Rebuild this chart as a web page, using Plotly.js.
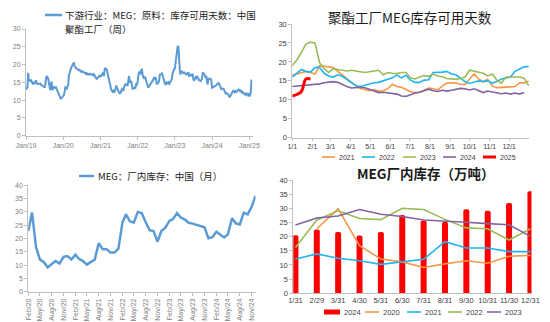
<!DOCTYPE html>
<html><head><meta charset="utf-8">
<script src="https://cdn.plot.ly/plotly-3.0.1.min.js"></script>
<style>html,body{margin:0;padding:0;background:#fff}#c{width:550px;height:322px}</style>
</head><body><div id="c"></div><script>
// ---- Weekly MEG inventory usable days (polyester plants), by year ----
const days2019 = [13.8,13.3,13.5,17.7,15.6,15.5,15.4,15.6,15.0,14.6,14.4,14.9,14.8,15.0,15.6,14.5,14.7,14.5,14.5,14.6,14.7,14.3,14.2,14.1,14.0,13.8,13.5,14.2,16.0,16.8,16.5,16.1,15.0,13.8,12.8,14.5,15.2,12.8,13.4,13.6,13.7,13.5,13.6,13.0,12.4,12.0,11.5,11.2,10.8,10.3,10.6,11.0];
const days2020 = [11.2,11.4,12.4,13.6,13.5,13.0,13.8,14.2,17.0,18.0,18.7,19.0,19.5,19.8,20.4,20.6,19.5,19.2,19.0,18.8,18.7,18.5,18.4,18.5,18.2,18.0,18.1,17.9,18.0,17.8,17.6,17.5,17.8,17.3,17.4,17.2,17.3,17.2,17.4,17.2,17.1,17.2,17.0,17.3,16.8,16.6,16.2,16.0,16.1,16.4,16.6,17.0];
const days2021 = [16.5,16.8,17.2,17.5,17.2,16.8,19.0,18.8,18.6,18.5,17.5,16.5,15.5,14.5,13.7,13.0,12.6,12.4,12.7,12.3,12.4,12.9,14.1,13.5,13.3,12.8,12.1,11.9,12.0,12.5,13.1,12.9,12.6,13.6,14.4,14.5,14.4,14.1,14.0,15.5,16.8,15.5,14.8,15.4,13.6,13.2,13.3,13.3,13.6,13.5,14.5,14.4,15.0];
const days2022 = [16.0,17.0,18.0,17.5,17.3,18.5,18.6,17.0,16.3,16.0,16.6,16.2,15.3,14.6,13.7,13.5,13.9,14.2,14.5,14.6,15.0,15.5,15.8,16.5,15.8,16.5,15.2,14.6,14.6,15.2,15.3,17.2,17.2,17.3,17.5,16.8,16.6,15.8,14.8,14.3,14.6,15.0,14.8,15.0,14.4,14.8,15.5,15.8,16.0,17.5,18.2,18.7,18.8];
const days2023 = [19.0,20.5,22.5,24.7,25.2,25.0,19.8,18.2,17.2,18.2,18.0,17.7,17.6,17.8,17.6,17.3,17.2,17.4,17.6,17.8,16.6,17.2,17.0,16.9,17.2,17.2,15.8,15.5,16.0,16.4,16.2,16.8,16.3,16.1,15.6,15.4,15.4,15.6,16.0,17.8,17.6,17.4,17.0,16.3,16.8,15.2,14.4,16.0,16.0,16.0,16.0,15.7,13.7];
const days2024 = [13.5,13.6,13.7,13.8,14.0,14.0,14.2,14.5,14.7,14.8,14.6,14.0,13.5,13.1,13.2,13.3,13.2,12.8,12.4,11.9,12.0,11.9,11.8,11.5,11.0,10.9,11.3,11.8,12.0,12.3,12.8,12.4,12.2,12.5,12.3,12.5,12.8,13.0,12.9,12.6,12.9,12.4,11.9,12.3,12.1,11.8,11.6,11.8,11.5,11.8,11.5,11.9];
const days2025 = [11.0,11.4,12.2,15.5,15.5];

// ---- Monthly MEG plant inventory (10k t), by year ----
const monthCats = ['1/31','2/29','3/31','4/30','5/31','6/30','7/31','8/31','9/30','10/31','11/30','12/31'];
const inv2020 = [null,22.8,29.8,16.8,12.1,11.1,9.1,10.4,11.5,10.6,13.1,13.4];
const inv2021 = [12.1,13.9,12.4,11.5,10.2,11.2,12.0,18.2,16.0,16.0,14.7,14.7];
const inv2022 = [16.2,25.9,29.1,26.4,26.0,30.0,29.6,26.1,23.1,22.8,18.8,22.8];
const inv2023 = [24.1,26.6,27.3,29.6,27.9,27.1,25.9,25.6,25.1,24.6,24.2,20.1];
const inv2024 = [20.5,22.5,21.6,20.4,21.6,27.6,25.7,25.3,29.7,29.1,31.9,36.0];

// ---- Text ----
const tlLegend1 = '下游行业：MEG：原料：库存可用天数：中国';
const tlLegend2 = '聚酯工厂（周）';
const trTitle = '聚酯工厂MEG库存可用天数';
const blLegend = 'MEG：厂内库存：中国（月）';
const brTitle = 'MEG厂内库存（万吨）';

const W = 550, H = 322;
const px = v => v / W, py = v => 1 - v / H;
const iso = d => d.toISOString().slice(0, 10);
const weekDate = (y, w) => iso(new Date(Date.UTC(y, 0, 1 + 7 * w)));

const yearDays = {2019: days2019, 2020: days2020, 2021: days2021, 2022: days2022, 2023: days2023, 2024: days2024, 2025: days2025};
const tlX = [], tlY = [];
Object.keys(yearDays).forEach(y => yearDays[y].forEach((v, w) => { tlX.push(weekDate(+y, w)); tlY.push(v); }));

const yearInv = {2020: inv2020, 2021: inv2021, 2022: inv2022, 2023: inv2023, 2024: inv2024};
const blX = [], blY = [];
Object.keys(yearInv).forEach(y => yearInv[y].forEach((v, m) => {
  if (v !== null) { blX.push(`${y}-${String(m + 1).padStart(2, '0')}-01`); blY.push(v); }
}));

const C = {o: '#F79646', b: '#1FB5EE', g: '#9BBB59', p: '#8064A2', r: '#FF0000', line: '#5B9BD5'};
const trSeries = [['2021', days2021, C.o, 1.6], ['2022', days2022, C.b, 1.6], ['2023', days2023, C.g, 1.6], ['2024', days2024, C.p, 1.6], ['2025', days2025, C.r, 3]];

const traces = [];
traces.push({x: tlX, y: tlY, type: 'scatter', mode: 'lines', line: {color: C.line, width: 2}, xaxis: 'x', yaxis: 'y'});
trSeries.forEach(([n, arr, col, w]) => traces.push({
  x: arr.map((_, i) => weekDate(2001, i)), y: arr, type: 'scatter', mode: 'lines', name: n,
  line: {color: col, width: w, shape: n === '2025' ? 'spline' : 'linear'}, xaxis: 'x2', yaxis: 'y2'}));
traces.push({x: blX, y: blY, type: 'scatter', mode: 'lines', line: {color: C.line, width: 2.5}, xaxis: 'x3', yaxis: 'y3'});
traces.push({x: monthCats, y: inv2024, type: 'bar', width: 0.28, marker: {color: C.r, cornerradius: 3}, xaxis: 'x4', yaxis: 'y4'});
[['2020', inv2020, C.o], ['2021', inv2021, C.b], ['2022', inv2022, C.g], ['2023', inv2023, C.p]].forEach(([n, arr, col]) =>
  traces.push({x: monthCats, y: arr, type: 'scatter', mode: 'lines', name: n, line: {color: col, width: 1.6}, xaxis: 'x4', yaxis: 'y4'}));

const num = 'Arial, "Liberation Sans", sans-serif';
const cjk = '"Noto Sans CJK SC", "Noto Sans", sans-serif';
const axBase = {showline: true, linecolor: '#BFBFBF', linewidth: 1, showgrid: false, zeroline: false, ticks: 'outside', ticklen: 3, tickcolor: '#BFBFBF', fixedrange: true};
const gray = {family: num, size: 7, color: '#808080'};
const dark = {family: num, size: 7.5, color: '#404040'};
const darkS = {family: num, size: 7, color: '#404040'};

const layout = {
  width: W, height: H, margin: {l: 0, r: 0, t: 0, b: 0}, paper_bgcolor: '#fff', plot_bgcolor: 'rgba(0,0,0,0)',
  showlegend: false, hovermode: false,
  xaxis: Object.assign({}, axBase, {domain: [px(26), px(252.5)], anchor: 'y', type: 'date', range: ['2019-01-01', '2025-02-01'], dtick: 'M12', tick0: '2019-01-01', tickformat: '%b/%y', tickfont: gray}),
  yaxis: Object.assign({}, axBase, {domain: [1 - 135.7 / H, 1 - 29 / H], anchor: 'x', range: [0, 30], dtick: 5, tickfont: gray}),
  xaxis2: Object.assign({}, axBase, {domain: [px(292.3), px(529)], anchor: 'y2', type: 'date', range: ['2001-01-01', '2001-12-31 12:00'], dtick: 'M1', tick0: '2001-01-01', tickformat: '%-m/%-d', ticklen: 2, tickangle: 0, tickfont: darkS}),
  yaxis2: Object.assign({}, axBase, {domain: [1 - 137.7 / H, 1 - 24 / H], anchor: 'x2', range: [0, 30], dtick: 5, tickfont: dark}),
  xaxis3: Object.assign({}, axBase, {domain: [px(28.3), px(255.5)], anchor: 'y3', type: 'date', range: ['2020-02-01', '2024-12-01'], dtick: 'M3', tick0: '2020-02-01', tickformat: '%b/%y', tickangle: -90, tickfont: gray}),
  yaxis3: Object.assign({}, axBase, {domain: [1 - 291.7 / H, 1 - 185.3 / H], anchor: 'x3', range: [0, 40], dtick: 5, tickfont: gray}),
  xaxis4: Object.assign({}, axBase, {domain: [px(293.3), px(531.5)], anchor: 'y4', type: 'category', range: [-0.1, 11.05], ticks: '', tickangle: 0, tickfont: {family: num, size: 7.5, color: '#404040'}}),
  yaxis4: Object.assign({}, axBase, {domain: [1 - 293.3 / H, 1 - 180 / H], anchor: 'x4', range: [0, 40], dtick: 5, tickfont: dark}),
  shapes: [], annotations: []
};

function ann(text, x, y, font, xanchor) {
  layout.annotations.push({text, x: px(x), y: py(y), xref: 'paper', yref: 'paper', showarrow: false, xanchor: xanchor || 'left', yanchor: 'middle', font});
}
function lineSample(x0, x1, y, color, width) {
  layout.shapes.push({type: 'line', xref: 'paper', yref: 'paper', x0: px(x0), x1: px(x1), y0: py(y), y1: py(y), line: {color, width}});
}

// top-left legend
lineSample(45, 62, 15, C.line, 2.5);
ann(tlLegend1, 63, 15, {family: cjk, size: 9.5, color: '#1a1a1a'});
ann(tlLegend2, 63, 29, {family: cjk, size: 9.5, color: '#1a1a1a'});
// top-right title + legend
ann(trTitle, 410, 17, {family: cjk, size: 13.5, color: '#1a1a1a'}, 'center');
const trLegX = [322, 362, 403, 443, 483];
trSeries.forEach(([n, , col, w], i) => { lineSample(trLegX[i], trLegX[i] + 13, 157, col, w); ann(n, trLegX[i] + 15, 157, darkS); });
// bottom-left legend
lineSample(79, 94, 176, C.line, 2.5);
ann(blLegend, 96, 176, {family: cjk, size: 9.5, color: '#1a1a1a'});
// bottom-right title + legend
ann('<b>' + brTitle + '</b>', 426, 173, {family: cjk, size: 13.5, color: '#1a1a1a'}, 'center');
layout.shapes.push({type: 'rect', xref: 'paper', yref: 'paper', x0: px(324), x1: px(340), y0: py(314.5), y1: py(309.5), fillcolor: C.r, line: {width: 0}});
ann('2024', 342, 312, dark);
const brLeg = [['2020', C.o, 365], ['2021', C.b, 407], ['2022', C.g, 448], ['2023', C.p, 487]];
brLeg.forEach(([n, col, x]) => { lineSample(x, x + 14, 312, col, 1.6); ann(n, x + 16, 312, dark); });

Plotly.newPlot('c', traces, layout, {staticPlot: true, displayModeBar: false});
</script></body></html>
